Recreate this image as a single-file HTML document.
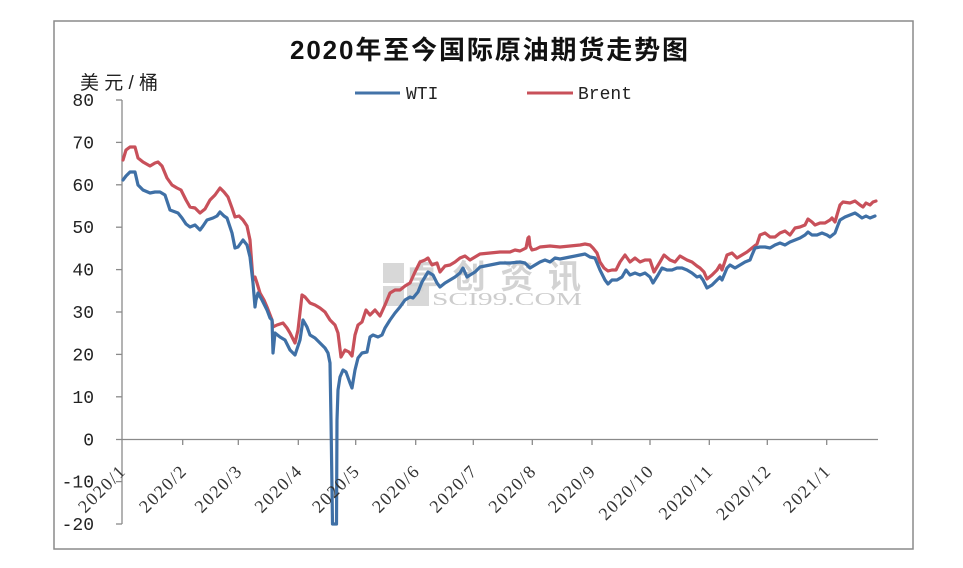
<!DOCTYPE html>
<html><head><meta charset="utf-8"><style>
html,body{margin:0;padding:0;background:#fff;}
svg{display:block;}
</style></head><body>
<svg width="963" height="568" viewBox="0 0 963 568" xmlns="http://www.w3.org/2000/svg">
<rect x="0" y="0" width="963" height="568" fill="#fff"/>
<rect x="54" y="21" width="859" height="528" fill="#fff" stroke="#8a8a8a" stroke-width="1.5"/>
<!-- watermark -->
<g opacity="0.9">
<rect x="383" y="263" width="21" height="20" fill="#d4d4d4"/>
<rect x="383" y="286" width="21" height="20" fill="#d4d4d4"/>
<rect x="407" y="286" width="22" height="20" fill="#d4d4d4"/>
<text x="405" y="288" font-family="'Noto Sans CJK SC','WenQuanYi Zen Hei',sans-serif" font-size="33" font-weight="bold" fill="#cfcfcf" textLength="176">卓创资讯</text>
<text x="432" y="305" font-family="'Liberation Serif',serif" font-size="18" fill="#c8c8c8" textLength="150" lengthAdjust="spacingAndGlyphs">SCI99.COM</text>
</g>
<!-- title -->
<text x="290" y="59" font-family="'Liberation Sans','Noto Sans CJK SC',sans-serif" font-size="26" font-weight="bold" fill="#111" textLength="398" lengthAdjust="spacing">2020年至今国际原油期货走势图</text>
<!-- unit -->
<text x="80" y="89" font-family="'Liberation Sans','Noto Sans CJK SC',sans-serif" font-size="19" fill="#222" textLength="78" lengthAdjust="spacing">美元/桶</text>
<!-- legend -->
<line x1="355" y1="93" x2="400" y2="93" stroke="#4373a8" stroke-width="3"/>
<text x="406" y="99" font-family="'Liberation Mono',monospace" font-size="18" fill="#222">WTI</text>
<line x1="527" y1="93" x2="573" y2="93" stroke="#c8505a" stroke-width="3"/>
<text x="578" y="99" font-family="'Liberation Mono',monospace" font-size="18" fill="#222">Brent</text>
<!-- axes -->
<g stroke="#8a8a8a" stroke-width="1.3" fill="none">
<line x1="122" y1="100" x2="122" y2="524"/>
<line x1="116" y1="439.5" x2="878" y2="439.5"/>
<line x1="116" y1="100" x2="122" y2="100"/>
<line x1="116" y1="142.4" x2="122" y2="142.4"/>
<line x1="116" y1="184.8" x2="122" y2="184.8"/>
<line x1="116" y1="227.2" x2="122" y2="227.2"/>
<line x1="116" y1="269.6" x2="122" y2="269.6"/>
<line x1="116" y1="312" x2="122" y2="312"/>
<line x1="116" y1="354.4" x2="122" y2="354.4"/>
<line x1="116" y1="396.8" x2="122" y2="396.8"/>
<line x1="116" y1="481.6" x2="122" y2="481.6"/>
<line x1="116" y1="524" x2="122" y2="524"/>
<line x1="182.7" y1="439.5" x2="182.7" y2="445"/>
<line x1="238.3" y1="439.5" x2="238.3" y2="445"/>
<line x1="298.3" y1="439.5" x2="298.3" y2="445"/>
<line x1="355.7" y1="439.5" x2="355.7" y2="445"/>
<line x1="415.7" y1="439.5" x2="415.7" y2="445"/>
<line x1="473.3" y1="439.5" x2="473.3" y2="445"/>
<line x1="532.3" y1="439.5" x2="532.3" y2="445"/>
<line x1="592" y1="439.5" x2="592" y2="445"/>
<line x1="650" y1="439.5" x2="650" y2="445"/>
<line x1="709.3" y1="439.5" x2="709.3" y2="445"/>
<line x1="767.3" y1="439.5" x2="767.3" y2="445"/>
<line x1="826.7" y1="439.5" x2="826.7" y2="445"/>
</g>
<!-- y labels -->
<g font-family="'Liberation Mono',monospace" font-size="18" fill="#222" text-anchor="end">
<text x="94" y="106">80</text>
<text x="94" y="148.4">70</text>
<text x="94" y="190.8">60</text>
<text x="94" y="233.2">50</text>
<text x="94" y="275.6">40</text>
<text x="94" y="318">30</text>
<text x="94" y="360.4">20</text>
<text x="94" y="402.8">10</text>
<text x="94" y="445.5">0</text>
<text x="94" y="487.6">-10</text>
<text x="94" y="530">-20</text>
</g>
<!-- series -->
<polyline fill="none" stroke="#c8505a" stroke-width="3.2" stroke-linejoin="round" stroke-linecap="round" points="123,160 126,150 130,147 135,147 138,158 143,162 150,166 155,163 158,162 162,166 167,178 172,185 177,188 181,190 186,200 190,207 195,208 200,213 205,209 210,200 215,195 220,188 224,192 228,197 232,208 235,217 239,216 243,220 247,226 250,240 253,280 255,277 257,283 260,293 264,300 267,307 272,320 273,327 277,325 283,323 287,328 290,333 295,343 298,330 302,295 305,297 310,303 315,305 320,308 325,312 330,320 335,325 338,333 341,357 345,350 349,352 352,356 355,335 358,325 362,322 366,310 370,315 375,310 380,316 385,305 390,293 395,290 400,290 405,286 410,283 415,272 420,262 425,260 428,258 432,265 437,263 440,272 445,266 450,265 455,262 460,258 465,256 470,260 475,257 480,254 490,253 500,252 510,252 515,250 520,251 526,248 528,238 529,237 530,246 532,250 536,249 540,247 550,246 560,247 570,246 580,245 585,244 590,245 593,248 597,253 600,262 604,268 608,271 612,270 616,270 620,262 625,255 630,262 635,258 640,262 645,260 650,260 654,272 660,262 664,255 670,260 675,262 680,256 687,260 692,262 697,266 700,268 704,272 707,279 712,275 717,270 720,265 722,270 727,255 732,253 737,258 742,255 747,252 752,248 757,244 760,235 765,233 770,237 775,237 780,233 785,231 790,235 795,228 800,227 805,225 808,219 812,222 815,225 820,223 825,223 830,220 832,218 835,222 837,215 840,205 843,202 850,203 855,201 860,205 863,207 866,203 870,205 873,202 876,201"/>
<polyline fill="none" stroke="#3f70a6" stroke-width="3.2" stroke-linejoin="round" stroke-linecap="round" points="123,180 126,176 130,172 135,172 138,185 143,190 150,193 155,192 160,192 165,195 170,210 178,213 182,218 186,224 190,227 195,225 200,230 203,226 207,220 213,218 217,216 220,212 224,216 227,218 232,233 235,248 238,247 243,240 247,245 250,257 253,283 255,307 256,300 258,293 262,300 267,310 270,318 272,320 273,353 275,333 280,337 285,340 290,350 295,355 300,340 303,320 307,327 310,335 315,338 320,343 325,348 328,353 330,363 331,420 332.5,524 336.5,524 337,420 338,390 340,377 343,370 346,372 350,383 352,388 355,370 358,358 362,353 367,352 370,337 373,335 378,337 382,335 385,328 390,320 395,313 400,307 405,300 410,297 413,298 418,292 422,282 428,272 433,275 437,283 440,287 445,283 450,280 455,277 460,273 463,268 467,277 470,275 475,272 480,267 490,265 500,263 510,263 520,262 525,263 530,268 535,265 540,262 545,260 550,262 555,258 560,259 570,257 580,255 585,254 590,257 595,258 600,270 605,280 608,284 612,280 617,280 622,277 626,270 630,275 635,273 640,275 645,273 650,277 653,283 658,275 662,268 667,270 672,270 677,268 682,268 687,270 692,273 697,277 700,276 703,280 707,288 712,285 717,280 720,277 722,280 727,268 730,265 735,268 740,265 745,262 750,260 752,255 755,248 760,247 765,247 770,248 775,245 780,243 785,245 790,242 795,240 800,238 805,235 808,232 812,235 817,235 822,233 827,235 830,237 835,233 838,225 840,220 845,217 850,215 855,213 858,215 862,218 866,216 870,218 875,216"/>
<!-- x labels -->
<g font-family="'Liberation Serif',serif" font-size="18" fill="#333" text-anchor="end" letter-spacing="1.5">
<text transform="translate(127,472) rotate(-45)">2020/1</text>
<text transform="translate(188,472) rotate(-45)">2020/2</text>
<text transform="translate(243.5,472) rotate(-45)">2020/3</text>
<text transform="translate(303.5,472) rotate(-45)">2020/4</text>
<text transform="translate(361,472) rotate(-45)">2020/5</text>
<text transform="translate(421,472) rotate(-45)">2020/6</text>
<text transform="translate(478.5,472) rotate(-45)">2020/7</text>
<text transform="translate(537.5,472) rotate(-45)">2020/8</text>
<text transform="translate(597,472) rotate(-45)">2020/9</text>
<text transform="translate(655,472) rotate(-45)">2020/10</text>
<text transform="translate(714.5,472) rotate(-45)">2020/11</text>
<text transform="translate(772.5,472) rotate(-45)">2020/12</text>
<text transform="translate(832,472) rotate(-45)">2021/1</text>
</g>
</svg>
</body></html>
